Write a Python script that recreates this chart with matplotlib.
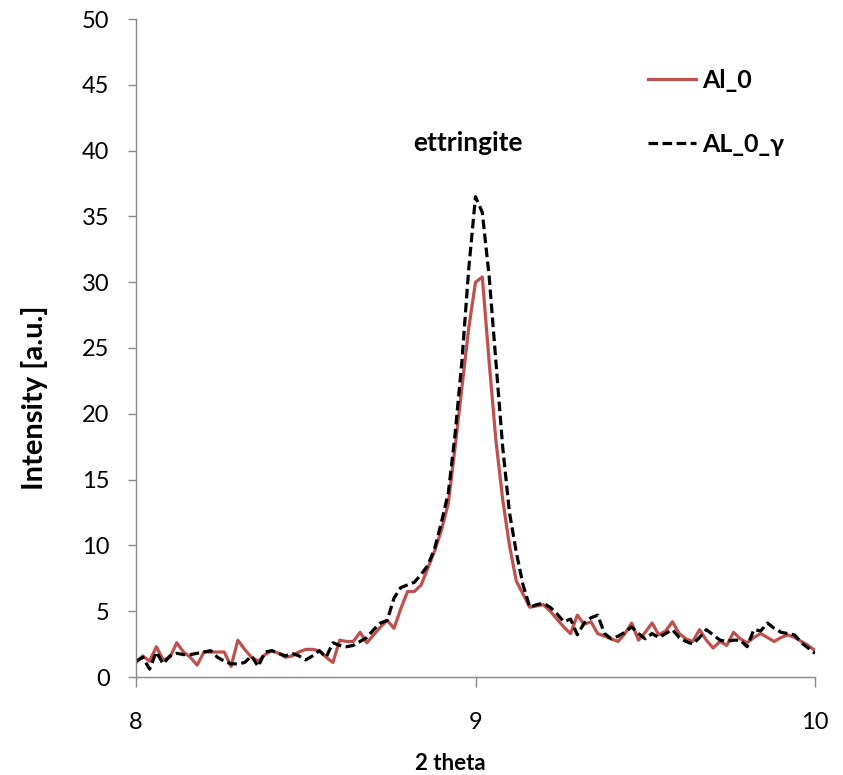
import numpy as np
import matplotlib
matplotlib.use("Agg")
import matplotlib.pyplot as plt

plt.rcParams['font.family'] = ['Lato', 'DejaVu Sans']

two_theta = np.round(np.linspace(8.0, 10.0, 101), 2)

al_0 = [
    1.1, 1.6, 1.2, 2.3, 1.3, 1.5, 2.6, 1.9, 1.5, 0.9, 1.9, 1.9, 1.9, 1.9, 0.8, 2.8, 2.1, 1.5, 1.2, 1.7,
    2.0, 1.8, 1.5, 1.6, 1.9, 2.1, 2.1, 2.0, 1.5, 1.1, 2.8, 2.7, 2.7, 3.4, 2.6, 3.2, 3.8, 4.3, 3.7, 5.2,
    6.5, 6.5, 7.0, 8.3, 9.6, 11.2, 13.2, 17.5, 22.0, 26.5, 30.0, 30.4, 24.0, 18.0, 13.5, 10.0, 7.3, 6.3, 5.3, 5.4,
    5.5, 5.0, 4.4, 3.8, 3.3, 4.7, 4.0, 4.2, 3.3, 3.1, 2.9, 2.7, 3.3, 4.1, 2.8, 3.4, 4.1, 3.2, 3.5, 4.2,
    3.3, 2.9, 2.7, 3.6, 2.8, 2.2, 2.7, 2.4, 3.4, 2.9, 2.6, 3.0, 3.3, 3.0, 2.7, 3.0, 3.2, 3.0, 2.7, 2.4, 2.0,
]

al_0_gamma = [
    1.2, 1.5, 0.6, 1.9, 1.0, 1.6, 1.8, 1.7, 1.7, 1.8, 1.9, 2.0, 1.5, 1.2, 1.0, 1.0, 1.1, 1.6, 0.8, 1.9,
    2.0, 1.8, 1.6, 1.8, 1.6, 1.3, 1.6, 2.0, 1.5, 2.6, 2.4, 2.3, 2.4, 2.7, 3.0, 3.6, 4.1, 4.3, 6.0, 6.8,
    7.0, 7.2, 7.8, 8.5, 9.8, 11.8, 14.0, 18.5, 24.0, 31.0, 36.5, 35.3, 30.5, 24.0, 17.5, 12.5, 9.5, 7.0, 5.3, 5.5,
    5.6, 5.3, 4.8, 4.2, 4.4, 3.2, 4.1, 4.5, 4.7, 3.3, 2.9, 3.1, 3.4, 3.8, 3.3, 2.9, 3.3, 3.0, 3.3, 3.6,
    3.0, 2.7, 2.5, 3.0, 3.6, 3.2, 2.8, 2.7, 2.8, 2.8, 2.3, 3.6, 3.5, 4.1, 3.7, 3.4, 3.3, 3.2, 2.6, 2.2, 1.8,
]

x_ticks = [8, 9, 10]
y_ticks = [0, 5, 10, 15, 20, 25, 30, 35, 40, 45, 50]
series_labels = ["Al_0", "AL_0_\u03b3"]
annotation = "ettringite"

W, H = 843, 775
fig = plt.figure(figsize=(W / 100, H / 100), dpi=100)
ax = fig.add_axes([136 / W, (H - 677) / H, (815 - 136) / W, (677 - 19) / H])

ax.plot(two_theta, al_0, color="#C0504D", lw=2.3, label=series_labels[0])
ax.plot(two_theta, al_0_gamma, color="black", lw=2.3, linestyle=(0, (3, 1.4)),
        label=series_labels[1])

ax.set_xlim(8, 10)
ax.set_ylim(0, 50)
ax.set_xticks(x_ticks)
ax.set_yticks(y_ticks)

for s in ["top", "right"]:
    ax.spines[s].set_visible(False)
for s in ["left", "bottom"]:
    ax.spines[s].set_color("#888888")
    ax.spines[s].set_linewidth(1.0)

ax.tick_params(axis="y", direction="out", length=6, width=1, color="#888888",
               labelsize=17, pad=13, labelcolor="black")
ax.tick_params(axis="x", direction="out", length=7, width=1, color="#888888",
               labelsize=17, pad=18, labelcolor="black")

ax.set_ylabel("Intensity [a.u.]", fontsize=21, fontweight="bold")
ax.yaxis.set_label_coords((35 - 136) / 679, (677 - 398) / 658)
ax.yaxis.label.set_va("center")
ax.set_xlabel("2 theta", fontsize=16, fontweight="bold")
ax.xaxis.set_label_coords((450 - 136) / 679, (677 - 763) / 658)
ax.xaxis.label.set_va("center")

ax.text(8.978, 40.6, annotation, fontsize=19, fontweight="bold",
        ha="center", va="center")

leg = ax.legend(loc="upper left", bbox_to_anchor=(648 / W, (H - 69) / H),
                bbox_transform=fig.transFigure, frameon=False,
                prop={"size": 18, "weight": "bold"}, handlelength=1.9,
                handletextpad=0.25, labelspacing=1.62, borderpad=0,
                borderaxespad=0)

fig.savefig("out.png", dpi=100)
